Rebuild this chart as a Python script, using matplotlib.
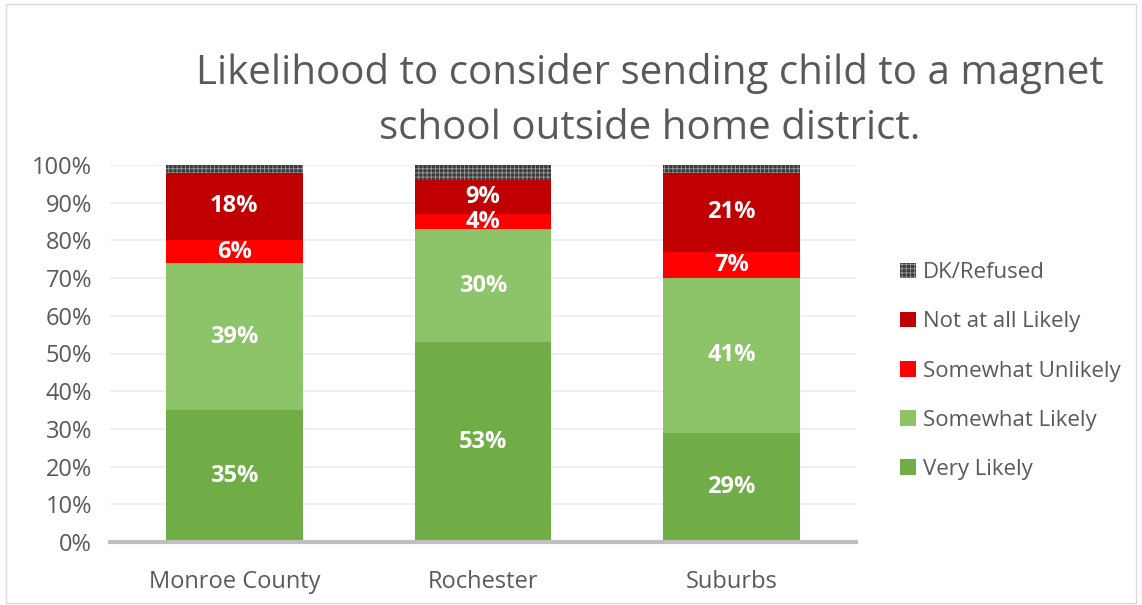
import matplotlib
matplotlib.use("Agg")
import matplotlib.pyplot as plt
from matplotlib.patches import Rectangle
from matplotlib.ticker import PercentFormatter

# data
categories = ["Monroe County", "Rochester", "Suburbs"]
very_likely = [35, 53, 29]
somewhat_likely = [39, 30, 41]
somewhat_unlikely = [6, 4, 7]
not_at_all = [18, 9, 21]
dk_refused = [2, 4, 2]

series = [
    ("Very Likely", very_likely, "#70ad47"),
    ("Somewhat Likely", somewhat_likely, "#8dc369"),
    ("Somewhat Unlikely", somewhat_unlikely, "#ff0000"),
    ("Not at all Likely", not_at_all, "#c00000"),
    ("DK/Refused", dk_refused, "#3a3a3a"),
]

plt.rcParams['font.family'] = ['Open Sans', 'DejaVu Sans']
plt.rcParams['hatch.color'] = '#9a9a9a'
plt.rcParams['hatch.linewidth'] = 0.6
TXT = "#595959"

fig = plt.figure(figsize=(11.42, 6.05), dpi=100)
fig.patches.append(Rectangle((0.005, 0.003), 0.99, 0.99, transform=fig.transFigure,
                             fill=False, edgecolor="#d9d9d9", lw=1))
ax = fig.add_axes([110 / 1142, 63 / 605, 746 / 1142, 377 / 605])

x = range(len(categories))
bottom = [0] * len(categories)
handles = []
for name, vals, col in series:
    if name == "DK/Refused":
        bars = ax.bar(x, vals, 0.55, bottom=bottom, color=col, hatch="++++",
                      edgecolor="#9a9a9a", linewidth=0, zorder=3)
    else:
        bars = ax.bar(x, vals, 0.55, bottom=bottom, color=col, linewidth=0, zorder=3)
        for i, v in enumerate(vals):
            ax.text(i, bottom[i] + v / 2, f"{v}%", ha="center", va="center",
                    color="white", fontsize=17, fontweight="bold", zorder=4)
    handles.append((bars, name))
    bottom = [b + v for b, v in zip(bottom, vals)]

ax.set_xlim(-0.5, 2.5)
ax.set_ylim(0, 100)
ax.set_yticks(range(0, 101, 10))
ax.yaxis.set_major_formatter(PercentFormatter(decimals=0))
ax.set_xticks(list(x))
ax.set_xticklabels(categories)
ax.tick_params(axis="both", length=0, labelsize=17, labelcolor=TXT)
ax.tick_params(axis="x", pad=20)
ax.tick_params(axis="y", pad=13)
ax.grid(axis="y", color="#ececec", lw=1.2, zorder=0)
for s in ["top", "right", "left"]:
    ax.spines[s].set_visible(False)
ax.spines["bottom"].set_color("#bfbfbf")
ax.spines["bottom"].set_linewidth(3)
ax.spines["bottom"].set_zorder(5)

fig.text(650 / 1142, 1 - 101 / 605,
         "Likelihood to consider sending child to a magnet\nschool outside home district.",
         ha="center", va="center", fontsize=29, color=TXT, linespacing=1.45)

h = [b for b, n in reversed(handles)]
lbl = [n for b, n in reversed(handles)]
leg = fig.legend(h, lbl, loc="center left", bbox_to_anchor=(880 / 1142, 1 - 371 / 605),
                 frameon=False, fontsize=16, labelcolor=TXT, handlelength=0.7,
                 handleheight=0.7, handletextpad=0.35, labelspacing=1.27)

fig.savefig("out.png", dpi=100)
